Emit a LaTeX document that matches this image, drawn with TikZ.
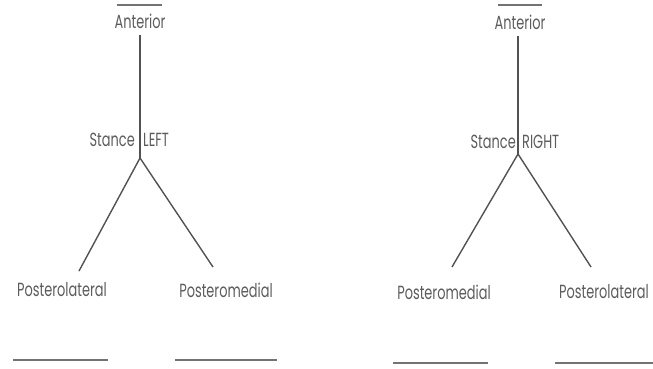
\documentclass[tikz,border=0pt]{standalone}
\usepackage{fontspec}
\setmainfont{Poppins}[FakeStretch=0.68]
\begin{document}
\begin{tikzpicture}[x=1pt,y=-1pt,
  lbl/.style={inner sep=0pt,text=black!64,font=\fontsize{19}{21}\selectfont},
  ln/.style={draw=black!68,line width=1.4pt},
  blank/.style={draw=black!55,line width=1.2pt}]
\useasboundingbox (0,0) rectangle (653,369);
% ---- left diagram ----
\node[lbl] (antL) at (140,21) {Anterior};
\coordinate (ovL1) at (117,5); \coordinate (ovL2) at (162,5);
\draw[blank] (ovL1) -- (ovL2);
\coordinate (topL) at (140,35);
\coordinate (jL) at (140,158);
\node[lbl,anchor=east] (stL) at (135,140) {Stance};
\node[lbl,anchor=west] (leftL) at (143,140) {LEFT};
\coordinate (bL1) at (79,271); \coordinate (bL2) at (213,267);
\draw[ln] (topL) -- (jL);
\draw[ln] (jL) -- (bL1);
\draw[ln] (jL) -- (bL2);
\node[lbl] (plL) at (62,290) {Posterolateral};
\node[lbl] (pmL) at (226,290) {Posteromedial};
\coordinate (uL1a) at (13,360); \coordinate (uL1b) at (108,360);
\coordinate (uL2a) at (175,360); \coordinate (uL2b) at (277,360);
\draw[blank] (uL1a) -- (uL1b);
\draw[blank] (uL2a) -- (uL2b);
% ---- right diagram ----
\node[lbl] (antR) at (520,22) {Anterior};
\coordinate (ovR1) at (498,5); \coordinate (ovR2) at (542,5);
\draw[blank] (ovR1) -- (ovR2);
\coordinate (topR) at (518,36);
\coordinate (jR) at (518,154);
\node[lbl,anchor=east] (stR) at (516,142) {Stance};
\node[lbl,anchor=west] (rightR) at (522,142) {RIGHT};
\coordinate (bR1) at (452,267); \coordinate (bR2) at (591,267);
\draw[ln] (topR) -- (jR);
\draw[ln] (jR) -- (bR1);
\draw[ln] (jR) -- (bR2);
\node[lbl] (pmR) at (444,292) {Posteromedial};
\node[lbl] (plR) at (604,292) {Posterolateral};
\coordinate (uR1a) at (393,363); \coordinate (uR1b) at (488,363);
\coordinate (uR2a) at (555,363); \coordinate (uR2b) at (653,363);
\draw[blank] (uR1a) -- (uR1b);
\draw[blank] (uR2a) -- (uR2b);
\end{tikzpicture}
\end{document}
